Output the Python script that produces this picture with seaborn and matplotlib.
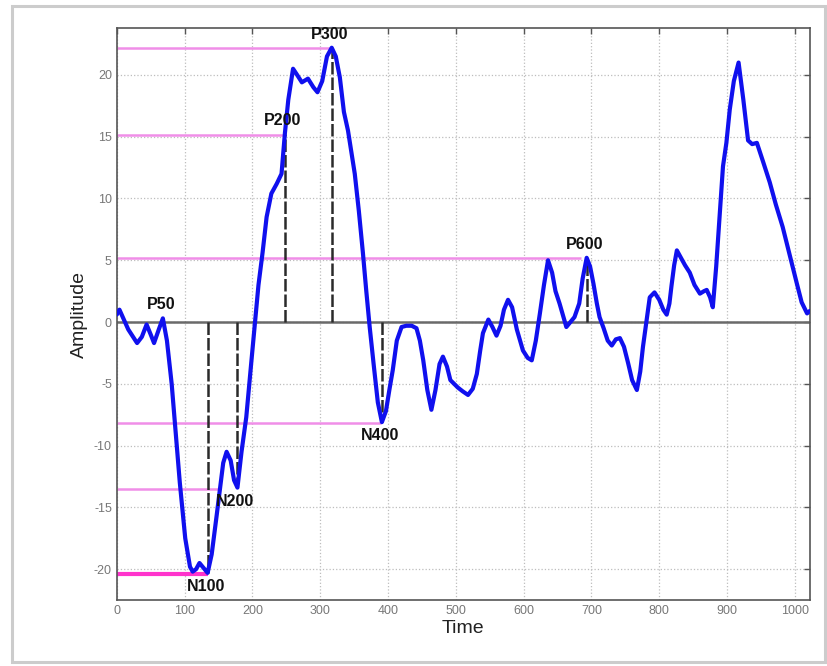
import matplotlib
matplotlib.use("Agg")
import matplotlib.pyplot as plt
import seaborn as sns
import pandas as pd
from matplotlib.patches import Rectangle

# ---- data ----
time = [0, 4, 17, 30, 37, 44, 50, 55, 62, 68, 74, 81, 93, 101, 108, 112, 117, 122, 128, 134,
        140, 147, 157, 162, 168, 173, 178, 184, 191, 198, 204, 209, 215, 221, 228, 236, 243,
        248, 253, 260, 266, 273, 282, 290, 296, 303, 310, 317, 323, 329, 335, 341, 351, 357,
        363, 368, 373, 379, 385, 391, 397, 402, 407, 413, 420, 427, 435, 442, 447, 452, 458,
        464, 470, 476, 481, 487, 492, 503, 510, 518, 525, 531, 536, 540, 548, 554, 560, 566,
        571, 577, 583, 590, 599, 606, 612, 618, 624, 630, 636, 642, 647, 653, 663, 669, 675,
        682, 687, 693, 698, 703, 708, 712, 718, 724, 730, 736, 742, 748, 754, 760, 767, 772,
        776, 781, 786, 793, 800, 806, 811, 815, 818, 822, 826, 831, 838, 845, 852, 860, 866,
        870, 875, 879, 884, 889, 894, 899, 904, 910, 917, 924, 931, 937, 944, 953, 963, 972,
        982, 992, 1003, 1010, 1018, 1022]
amplitude = [0.6, 1.0, -0.6, -1.7, -1.2, -0.2, -1.0, -1.7, -0.6, 0.3, -1.5, -5.0, -13.0, -17.5,
             -19.8, -20.2, -20.0, -19.5, -19.9, -20.3, -18.8, -15.8, -11.4, -10.5, -11.2, -12.8,
             -13.4, -10.5, -7.7, -3.5, 0.0, 3.0, 5.6, 8.5, 10.4, 11.2, 12.0, 15.3, 18.0, 20.5,
             20.0, 19.4, 19.7, 19.0, 18.6, 19.5, 21.5, 22.2, 21.5, 19.8, 17.0, 15.5, 12.0, 9.0,
             5.6, 2.5, -0.4, -3.5, -6.5, -8.1, -7.2, -5.5, -3.9, -1.5, -0.4, -0.3, -0.3, -0.5,
             -1.5, -3.1, -5.5, -7.1, -5.5, -3.4, -2.8, -3.6, -4.7, -5.3, -5.6, -5.9, -5.4, -4.2,
             -2.3, -0.9, 0.2, -0.4, -1.1, -0.3, 1.0, 1.8, 1.2, -0.6, -2.3, -2.9, -3.1, -1.5,
             0.7, 3.0, 5.0, 4.0, 2.5, 1.5, -0.4, 0.0, 0.4, 1.5, 3.5, 5.2, 4.5, 3.1, 1.5, 0.4,
             -0.5, -1.5, -1.9, -1.4, -1.3, -2.0, -3.3, -4.7, -5.5, -4.0, -2.0, 0.0, 2.0, 2.4,
             1.8, 1.0, 0.6, 1.5, 2.9, 4.6, 5.8, 5.3, 4.6, 4.0, 3.0, 2.3, 2.5, 2.6, 2.0, 1.2,
             4.5, 8.5, 12.6, 14.5, 17.2, 19.5, 21.0, 18.0, 14.7, 14.4, 14.5, 13.0, 11.3, 9.5,
             7.7, 5.5, 3.1, 1.6, 0.7, 0.9]

peak_names = ["P50", "N100", "N200", "P200", "P300", "N400", "P600"]
peak_times = [68, 134, 178, 248, 317, 391, 693]
peak_amps = [0.3, -20.3, -13.4, 15.2, 22.2, -8.1, 5.2]

# magenta reference levels (level, x where the line stops)
ref_levels = [22.2, 15.1, 5.2, -8.2, -13.5, -20.4]
ref_ends = [315, 246, 685, 390, 150, 134]

x_ticks = list(range(0, 1001, 100))
y_ticks = [-20, -15, -10, -5, 0, 5, 10, 15, 20]

df = pd.DataFrame({"Time": time, "Amplitude": amplitude})

sns.set_style("white")
plt.rcParams["font.family"] = ["Liberation Sans", "DejaVu Sans"]
plt.rcParams["axes.unicode_minus"] = False

fig = plt.figure(figsize=(8.28, 6.66), dpi=100)
ax = fig.add_axes([0.141, 0.099, 0.837, 0.859])

# outer frame of the picture
fig.patches.append(Rectangle((0.014, 0.006), 0.982, 0.985, transform=fig.transFigure,
                             fill=False, edgecolor="#cccccc", linewidth=2.2, zorder=0))

ax.set_xlim(0, 1022)
ax.set_ylim(-22.5, 23.8)
ax.set_xticks(x_ticks)
ax.set_yticks(y_ticks)
ax.grid(True, color="#bdbdbd", linestyle=":", linewidth=0.9)

# zero line
ax.axhline(0, color="#6a6a6a", linewidth=1.8, zorder=2)

# magenta reference lines
for lev, xe in zip(ref_levels, ref_ends):
    strong = lev < -20
    ax.hlines(lev, 0, xe, colors="#ff33cc" if strong else "#f08ee8",
              linewidth=3.0 if strong else 1.8, zorder=2)

# vertical dashed lines at the components (except P50)
for t, a in zip(peak_times[1:], peak_amps[1:]):
    ax.vlines(t, 0, a, colors="#2a2a2a", linestyles=(0, (5, 1.2)), linewidth=1.8, zorder=3)

sns.lineplot(data=df, x="Time", y="Amplitude", ax=ax, color="#1010ee",
             linewidth=3.0, zorder=4, sort=False)

for name, t, a in zip(peak_names, peak_times, peak_amps):
    if a >= 0:
        ax.text(t - 3, a + 0.5, name, ha="center", va="bottom", fontsize=11.5,
                fontweight="bold", color="#111111", zorder=5)
    else:
        ax.text(t - 3, a - 0.5, name, ha="center", va="top", fontsize=11.5,
                fontweight="bold", color="#111111", zorder=5)

ax.set_xlabel("Time", fontsize=14, color="#222222", labelpad=2)
ax.set_ylabel("Amplitude", fontsize=14, color="#222222", labelpad=4)

ax.tick_params(direction="in", length=4, width=1, colors="#555555", labelsize=9,
               top=True, right=True, labelcolor="#777777")
for s in ax.spines.values():
    s.set_color("#555555")
    s.set_linewidth(1.2)

fig.savefig("out.png", dpi=100)
